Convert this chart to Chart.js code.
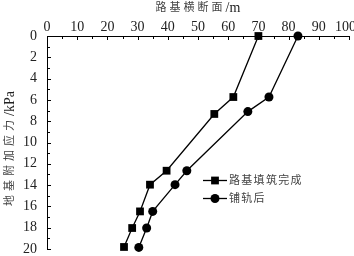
<!DOCTYPE html>
<html>
<head>
<meta charset="utf-8">
<script src="https://cdn.jsdelivr.net/npm/chart.js@4.4.0/dist/chart.umd.min.js"></script>
<style>
  html, body { margin: 0; padding: 0; background: #fff; }
  #wrap { width: 354px; height: 256px; }
</style>
</head>
<body>
<div id="wrap"><canvas id="myChart"></canvas></div>
<script>
// data
const seriesNames = ['路基填筑完成', '铺轨后'];
const fillDoneX = [70.0, 61.7, 55.4, 39.6, 34.1, 30.8, 28.2, 25.5];
const fillDoneY = [0, 5.73, 7.32, 12.65, 13.96, 16.47, 18.03, 19.81];
const trackX = [83.1, 73.5, 66.5, 46.3, 42.4, 35.0, 33.0, 30.4];
const trackY = [0, 5.73, 7.1, 12.65, 13.96, 16.47, 18.03, 19.85];
const xTitle = '路基横断面';
const xUnit = '/m';
const yTitle = '地基附加应力';
const yUnit = '/kPa';

function toPoints(xs, ys) {
  let pts = [];
  for (let i = 0; i < xs.length; i++) {
    pts.push({ x: xs[i], y: ys[i] });
  }
  return pts;
}

const serif = 'Liberation Serif';
const cjk = 'Noto Sans CJK SC';

// labels at the ends may hang over, don't let them shrink the plot
function noPad(s) {
  s.paddingLeft = 0;
  s.paddingRight = 0;
  s.paddingTop = 0;
  s.paddingBottom = 0;
}

// inside ticks, axis titles and the legend
const decor = {
  id: 'decor',
  afterDraw(chart) {
    const ctx = chart.ctx;
    const xs = chart.scales.x, ys = chart.scales.y;
    const area = chart.chartArea;
    ctx.save();
    ctx.strokeStyle = '#000';
    ctx.lineWidth = 1;
    ctx.beginPath();
    for (let v = 0; v <= 100; v += 5) {
      const px = Math.round(xs.getPixelForValue(v)) + 0.5;
      const len = v % 10 === 0 ? 4 : 3;
      ctx.moveTo(px, area.top);
      ctx.lineTo(px, area.top + len);
    }
    for (let v = 0; v <= 20; v += 1) {
      const py = Math.round(ys.getPixelForValue(v)) + 0.5;
      const len = v % 2 === 0 ? 4 : 3;
      ctx.moveTo(area.left, py);
      ctx.lineTo(area.left + len, py);
    }
    ctx.stroke();

    // x title
    ctx.fillStyle = '#444';
    ctx.textBaseline = 'middle';
    ctx.textAlign = 'left';
    ctx.font = '11px "' + cjk + '"';
    ctx.letterSpacing = '3px';
    const w1 = ctx.measureText(xTitle).width;
    ctx.font = '14px "' + serif + '"';
    ctx.letterSpacing = '0px';
    const w2 = ctx.measureText(xUnit).width;
    let tx = (area.left + area.right) / 2 - (w1 + w2) / 2;
    ctx.font = '11px "' + cjk + '"';
    ctx.letterSpacing = '3px';
    ctx.fillText(xTitle, tx, 7);
    ctx.font = '14px "' + serif + '"';
    ctx.letterSpacing = '0px';
    ctx.fillStyle = '#222';
    ctx.fillText(xUnit, tx + w1, 8);

    // y title, rotated
    ctx.save();
    ctx.translate(9, (area.top + area.bottom) / 2 + 6);
    ctx.rotate(-Math.PI / 2);
    ctx.font = '11px "' + cjk + '"';
    ctx.letterSpacing = '4px';
    const h1 = ctx.measureText(yTitle).width;
    ctx.font = '14px "' + serif + '"';
    ctx.letterSpacing = '0px';
    const h2 = ctx.measureText(yUnit).width;
    let ty = -(h1 + h2) / 2;
    ctx.font = '11px "' + cjk + '"';
    ctx.letterSpacing = '4px';
    ctx.fillStyle = '#444';
    ctx.fillText(yTitle, ty, 0);
    ctx.font = '14px "' + serif + '"';
    ctx.letterSpacing = '0px';
    ctx.fillStyle = '#222';
    ctx.fillText(yUnit, ty + h1, 1);
    ctx.restore();

    // legend
    const rows = [180, 198];
    chart.data.datasets.forEach((ds, i) => {
      const y = rows[i];
      ctx.beginPath();
      ctx.strokeStyle = '#000';
      ctx.lineWidth = 1.3;
      ctx.moveTo(203, y + 0.5);
      ctx.lineTo(227, y + 0.5);
      ctx.stroke();
      ctx.fillStyle = '#000';
      Chart.helpers.drawPoint(ctx, {
        pointStyle: ds.pointStyle, radius: ds.pointRadius, borderWidth: 0, rotation: 0
      }, 215, y + 0.5);
      ctx.fillStyle = '#444';
      ctx.font = '11px "' + cjk + '"';
      ctx.letterSpacing = '1.3px';
      ctx.textAlign = 'left';
      ctx.textBaseline = 'middle';
      ctx.fillText(ds.label, 229, y);
    });
    ctx.restore();
  }
};

const ctx = document.getElementById('myChart');
new Chart(ctx, {
  type: 'scatter',
  data: {
    datasets: [{
      label: seriesNames[0],
      data: toPoints(fillDoneX, fillDoneY),
      showLine: true,
      borderColor: '#000',
      backgroundColor: '#000',
      borderWidth: 1.3,
      pointStyle: 'rect',
      pointRadius: 5.5,
      pointBorderWidth: 0,
      clip: false
    }, {
      label: seriesNames[1],
      data: toPoints(trackX, trackY),
      showLine: true,
      borderColor: '#000',
      backgroundColor: '#000',
      borderWidth: 1.3,
      pointStyle: 'circle',
      pointRadius: 4.5,
      pointBorderWidth: 0,
      clip: false
    }]
  },
  options: {
    responsive: true,
    maintainAspectRatio: false,
    animation: false,
    layout: { autoPadding: false, padding: { left: 0, top: 0, right: 5, bottom: 7 } },
    plugins: {
      legend: { display: false },
      tooltip: { enabled: false }
    },
    scales: {
      x: {
        type: 'linear',
        position: 'top',
        min: 0,
        max: 100,
        ticks: {
          stepSize: 10, color: '#222', padding: 0, font: { family: serif, size: 14 },
          maxRotation: 0, minRotation: 0, autoSkip: false,
          // last label sits a little left of its tick in the original
          callback: v => v === 100 ? '100\u2002' : v
        },
        grid: { display: false, drawTicks: false },
        border: { display: true, color: '#000', width: 1 },
        afterFit: s => { s.height = 36; noPad(s); }
      },
      y: {
        type: 'linear',
        reverse: true,
        min: 0,
        max: 20,
        ticks: { stepSize: 2, color: '#222', padding: 10, autoSkip: false, font: { family: serif, size: 14 } },
        grid: { display: false, drawTicks: false },
        border: { display: true, color: '#000', width: 1 },
        afterFit: s => { s.width = 47; noPad(s); }
      }
    }
  },
  plugins: [decor]
});
</script>
</body>
</html>
